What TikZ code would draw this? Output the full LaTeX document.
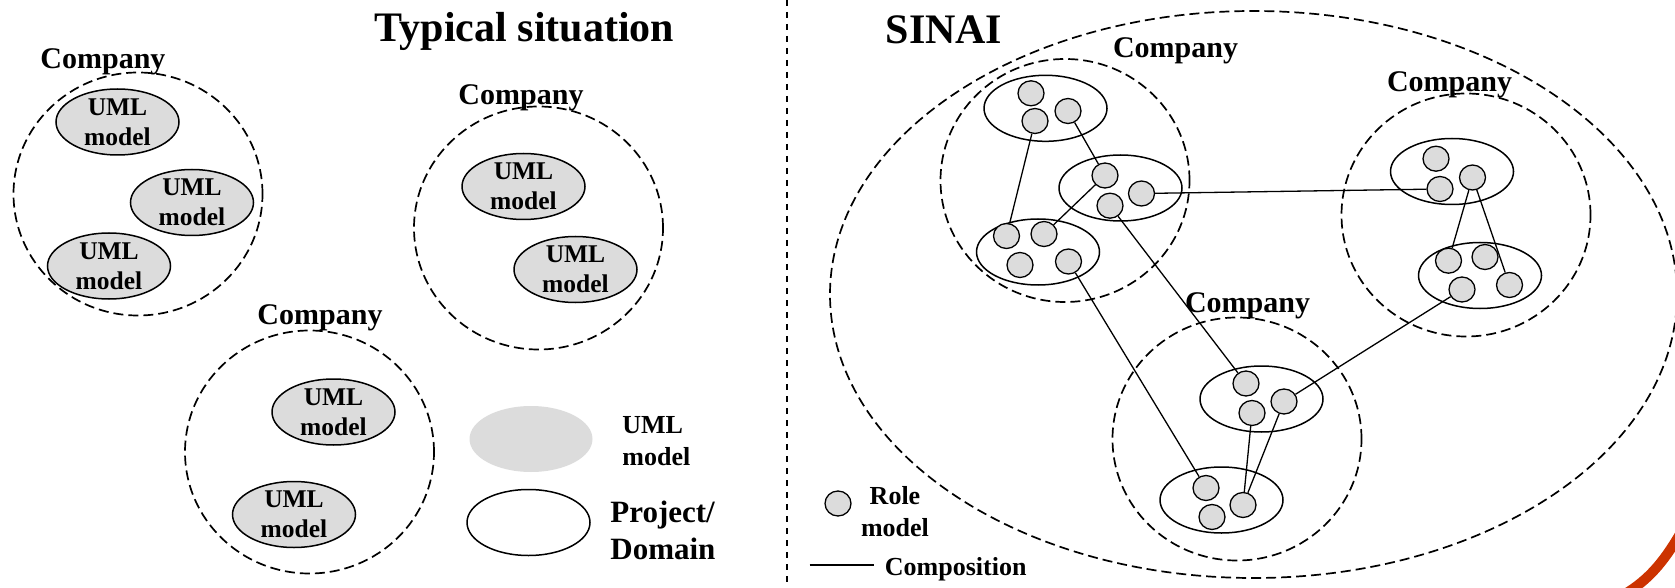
\documentclass[tikz,border=0pt]{standalone}
\usepackage{fontspec}
\setmainfont{Liberation Serif}
\usepackage{xcolor}
\usepackage{tikz}
\usetikzlibrary{shapes.geometric}

\definecolor{modelgray}{RGB}{220,220,220}
\definecolor{slidered}{RGB}{204,51,0}

\tikzset{
  company/.style={draw, ellipse, dash pattern=on 5pt off 2.5pt, line width=0.85pt, minimum width=124.5pt, minimum height=121.5pt, inner sep=0},
  umlmodel/.style={draw, ellipse, fill=modelgray, line width=0.75pt, minimum width=61.5pt, minimum height=33pt, inner sep=0},
  project/.style={draw, ellipse, line width=0.75pt, minimum width=61.5pt, minimum height=33pt, inner sep=0},
  role/.style={draw, ellipse, fill=modelgray, line width=0.65pt, minimum width=13pt, minimum height=12.5pt, inner sep=0},
  compline/.style={line width=0.65pt},
  bigtitle/.style={font=\fontsize{21}{25}\selectfont\bfseries, inner sep=0, anchor=base},
  complabel/.style={font=\fontsize{15}{18}\selectfont\bfseries, inner sep=0, anchor=base},
  umltext/.style={font=\fontsize{12.75}{15}\selectfont\bfseries, align=center, inner sep=0},
  legendtext/.style={font=\fontsize{13}{16}\selectfont\bfseries, inner sep=0}
}

\begin{document}
\begin{tikzpicture}[x=0.5pt, y=-0.5pt]
    \useasboundingbox (0,0) rectangle (1675,588);

    % typical situation
    \node[bigtitle] (typical) at (524.5,41.7) {Typical situation};
    \node[company] (co1) at (138,194) {};
    \node[company] (co2) at (538.5,228) {};
    \node[company] (co3) at (309.5,452) {};
    \node[complabel] (co1lab) at (103,68.3) {Company};
    \node[complabel] (co2lab) at (521,105) {Company};
    \node[complabel] (co3lab) at (320,324.5) {Company};

    \node[umlmodel] (uml1) at (117.5,122) {};
    \node[umlmodel] (uml2) at (192,202.5) {};
    \node[umlmodel] (uml3) at (109,266) {};
    \node[umlmodel] (uml4) at (523.5,186.5) {};
    \node[umlmodel] (uml5) at (575.5,269.5) {};
    \node[umlmodel] (uml6) at (333.5,412) {};
    \node[umlmodel] (uml7) at (294,514.5) {};
    \foreach \m in {uml1,uml2,uml3,uml4,uml5,uml6,uml7}
        \node[umltext] (\m txt) at (\m) {UML\\model};

    % legend left
    \node[umlmodel, draw=none] (leguml) at (531,439) {};
    \node[legendtext, align=left, anchor=north west] (legumltxt) at (622,416.5) {UML\\model};
    \node[project] (legproj) at (528.5,522.5) {};
    \node[legendtext, font=\fontsize{15.5}{18.5}\selectfont\bfseries, align=left, anchor=north west] (legprojtxt) at (610,500.5) {Project/\\Domain};

    \draw[dash pattern=on 3pt off 3pt, line width=0.85pt] (786.7,0) -- (786.7,588);

    % SINAI
    \node[bigtitle] (sinaitxt) at (944,43.3) {SINAI};
    \node[company, minimum width=423.5pt, minimum height=283.5pt] (sinai) at (1253.5,294.5) {};
    \node[company] (coA) at (1065,180.5) {};
    \node[company] (coB) at (1466,215) {};
    \node[company] (coC) at (1237,439) {};
    \node[complabel] (coAlab) at (1175.5,58) {Company};
    \node[complabel] (coBlab) at (1449.5,91.7) {Company};
    \node[complabel] (coClab) at (1247.5,313) {Company};

    \node[project] (pa1) at (1045.5,108.3) {};
    \node[project] (pa2) at (1120.5,188) {};
    \node[project] (pa3) at (1038,252) {};
    \node[project] (pb1) at (1452,171.5) {};
    \node[project] (pb2) at (1480,275.5) {};
    \node[project] (pc1) at (1261.5,399) {};
    \node[project] (pc2) at (1221.5,500) {};

    \foreach \r/\x/\y in {ra1/1031/93.3, ra2/1068/111, ra3/1035/121, ra4/1105/175.5,
        ra5/1141.5/193.5, ra6/1110/205.7, ra7/1006.5/236, ra8/1044/234, ra9/1020/265,
        ra10/1068.5/261.5, rb1/1436/158.7, rb2/1472.5/177.5, rb3/1440/189,
        rb4/1448.5/260.7, rb5/1485/257, rb6/1509.5/285, rb7/1462/289.5,
        rc1/1246/383.5, rc2/1284/401.5, rc3/1252/413, rc4/1206/488, rc5/1243/505, rc6/1212/517}
        \node[role] (\r) at (\x,\y) {};

    \foreach \a/\b in {ra3/ra7, ra2/ra4, ra4/ra8, ra5/rb3, ra6/rc1, ra10/rc4,
        rb2/rb4, rb2/rb6, rb7/rc2, rc3/rc5, rc2/rc5}
        \draw[compline] (\a) -- (\b);

    % legend right
    \node[role] (legrole) at (838,503.5) {};
    \node[legendtext, align=center, anchor=north] (legroletxt) at (895,486) {Role\\model};
    \coordinate (compstart) at (809.7,565);
    \coordinate (compend) at (874,565);
    \draw[compline] (compstart) -- (compend);
    \node[legendtext, anchor=base west] (comptxt) at (884.5,575) {Composition};

    \draw[slidered, line width=5pt] (1625,594) .. controls (1648,580) and (1663,563) .. (1680,534);
\end{tikzpicture}
\end{document}
